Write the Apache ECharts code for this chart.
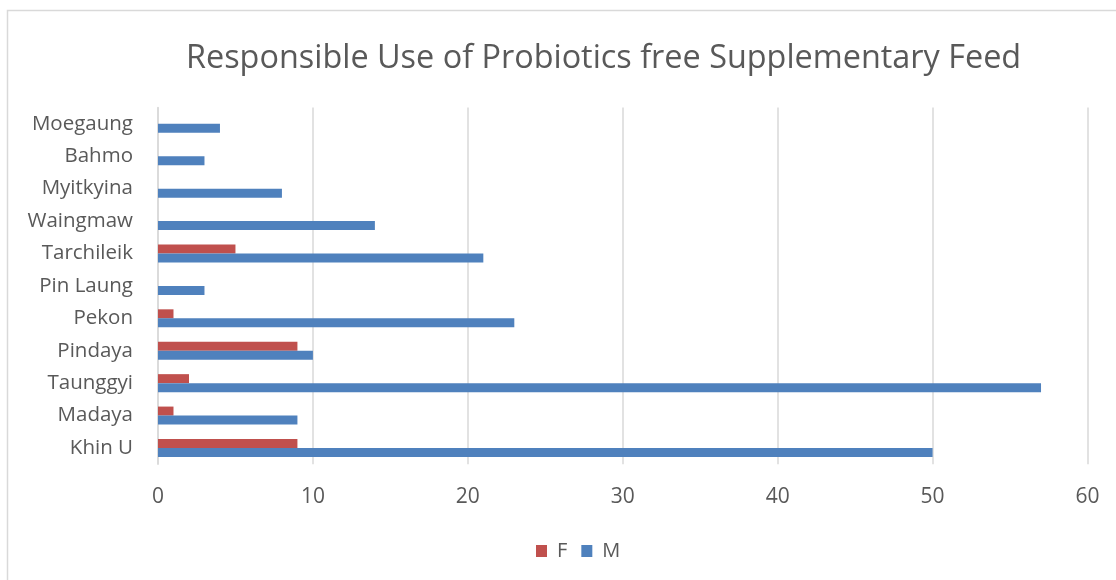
<!DOCTYPE html>
<html><head><meta charset="utf-8">
<script src="https://cdn.jsdelivr.net/npm/echarts@6/dist/echarts.min.js"></script>
<style>html,body{margin:0;padding:0;background:#fff}#c{width:1116px;height:580px}</style>
</head><body><div id="c"></div>
<script>
const categories = ["Khin U","Madaya","Taunggyi","Pindaya","Pekon","Pin Laung","Tarchileik","Waingmaw","Myitkyina","Bahmo","Moegaung"];
const femaleValues = [9,1,2,9,1,0,5,0,0,0,0];
const maleValues = [50,9,57,10,23,3,21,14,8,3,4];
const xTicks = [0,10,20,30,40,50,60];

const chart = echarts.init(document.getElementById('c'), null, {renderer:'canvas'});
const font = '"Open Sans", sans-serif';
chart.setOption({
  animation:false,
  graphic:[{type:'rect',shape:{x:7.5,y:10.5,width:1200,height:700},style:{fill:'none',stroke:'#d9d9d9',lineWidth:1.5},silent:true}],
  title:{text:'Responsible Use of Probiotics free Supplementary Feed',left:181,top:38,
    textStyle:{fontFamily:font,fontWeight:'normal',fontSize:32.4,color:'#595959'}},
  legend:{data:['F','M'],top:536,left:531,itemWidth:11,itemHeight:12,itemGap:14,icon:'rect',
    textStyle:{fontFamily:font,fontSize:20,color:'#595959',padding:[0,0,0,5]}},
  grid:{left:158,right:28.5,top:107.6,height:356.6,containLabel:false},
  xAxis:{type:'value',min:xTicks[0],max:xTicks[xTicks.length-1],interval:10,
    axisLine:{show:false},axisTick:{show:false},
    splitLine:{lineStyle:{color:'#d9d9d9',width:1.5}},
    axisLabel:{fontFamily:font,fontSize:21,color:'#595959',margin:22}},
  yAxis:{type:'category',data:categories,
    axisLine:{show:true,lineStyle:{color:'#d9d9d9',width:1.5}},axisTick:{show:false},
    axisLabel:{fontFamily:font,fontSize:20.5,color:'#595959',margin:25}},
  series:[
    {name:'F',type:'bar',data:femaleValues,barWidth:9,barGap:'0%',itemStyle:{color:'#C0504D'}},
    {name:'M',type:'bar',data:maleValues,barWidth:9,barGap:'0%',itemStyle:{color:'#4F81BD'}}
  ]
});
</script></body></html>
